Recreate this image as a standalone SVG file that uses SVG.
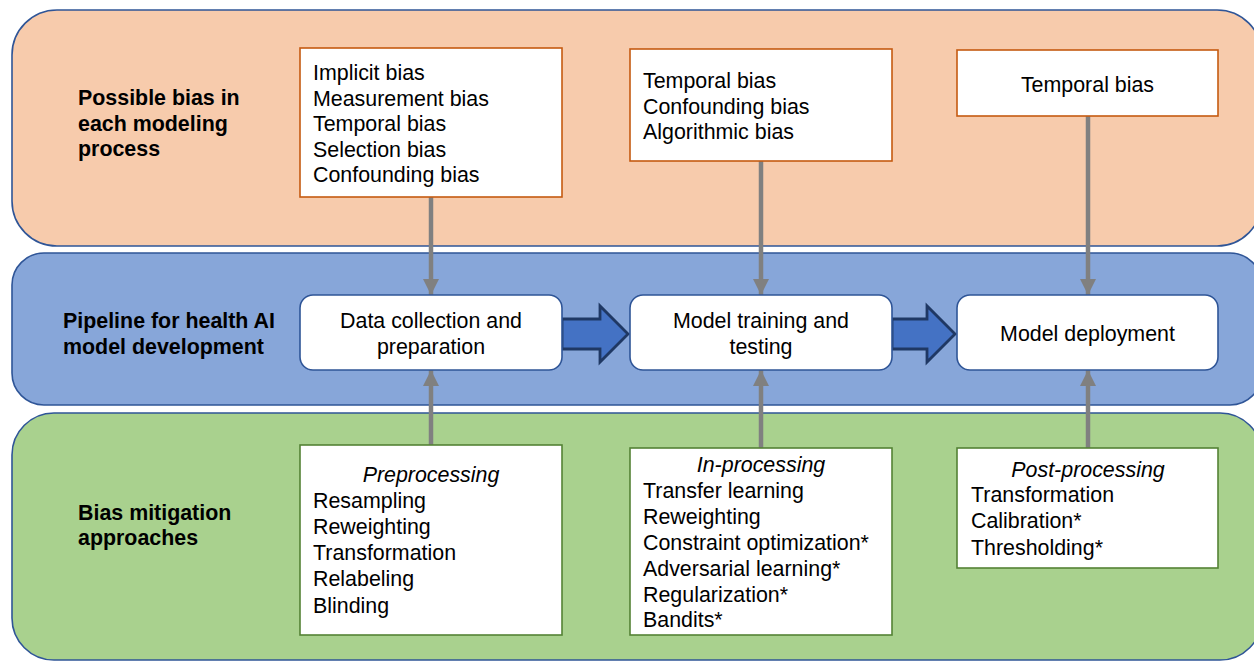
<svg xmlns="http://www.w3.org/2000/svg" width="1254" height="662" viewBox="0 0 1254 662">
<defs>
<style>
.band{stroke:#2F5597;stroke-width:1.6}
.txt{font-family:"Liberation Sans",Arial,sans-serif;font-size:21.4px;fill:#000}
.lbl{font-family:"Liberation Sans",Arial,sans-serif;font-size:21.4px;font-weight:bold;fill:#000}
.it{font-style:italic}
.obox{fill:#fff;stroke:#C55A11;stroke-width:1.6}
.gbox{fill:#fff;stroke:#548235;stroke-width:1.6}
.pbox{fill:#fff;stroke:#2F5597;stroke-width:1.6}
.conn{stroke:#808080;stroke-width:4.5;fill:none;marker-end:url(#ah)}
.blk{fill:#4472C4;stroke:#1F3864;stroke-width:2.8;stroke-linejoin:miter}
</style>
<marker id="ah" markerUnits="userSpaceOnUse" markerWidth="16" markerHeight="16" viewBox="0 0 16 16" refX="16" refY="8" orient="auto">
<path d="M0,0 L16,8 L0,16 Z" fill="#808080"/>
</marker>
</defs>
<g id="bands">
<rect id="band-bias" class="band" x="12" y="10" width="1250" height="236" rx="45" ry="45" fill="#F7CBAC"/>
<rect id="band-pipeline" class="band" x="12" y="253" width="1250" height="152" rx="32" ry="32" fill="#87A6D9"/>
<rect id="band-mitigation" class="band" x="12" y="413" width="1250" height="247" rx="42" ry="42" fill="#A9D18E"/>
</g>
<g id="labels">
<text class="lbl" x="78" y="105">Possible bias in</text>
<text class="lbl" x="78" y="131">each modeling</text>
<text class="lbl" x="78" y="156">process</text>
<text class="lbl" x="63" y="328">Pipeline for health AI</text>
<text class="lbl" x="63" y="354">model development</text>
<text class="lbl" x="78" y="520">Bias mitigation</text>
<text class="lbl" x="78" y="545">approaches</text>
</g>
<g id="connectors">
<line class="conn" x1="431" y1="197" x2="431" y2="295"/>
<line class="conn" x1="761" y1="161" x2="761" y2="295"/>
<line class="conn" x1="1088" y1="116" x2="1088" y2="295"/>
<line class="conn" x1="431" y1="445" x2="431" y2="370"/>
<line class="conn" x1="761" y1="448" x2="761" y2="370"/>
<line class="conn" x1="1088" y1="448" x2="1088" y2="370"/>
<path id="flow1" class="blk" d="M562,319 L600,319 L600,306 L628,334 L600,362 L600,349 L562,349 Z"/>
<path id="flow2" class="blk" d="M892,319 L927,319 L927,306 L955,334 L927,362 L927,349 L892,349 Z"/>
</g>
<g id="bias-data">
<rect class="obox" x="300" y="48" width="262" height="149"/>
<text class="txt" x="313" y="80">Implicit bias</text>
<text class="txt" x="313" y="105.6">Measurement bias</text>
<text class="txt" x="313" y="131.2">Temporal bias</text>
<text class="txt" x="313" y="156.8">Selection bias</text>
<text class="txt" x="313" y="182.4">Confounding bias</text>
</g>
<g id="bias-model">
<rect class="obox" x="630" y="49" width="262" height="112"/>
<text class="txt" x="643" y="88">Temporal bias</text>
<text class="txt" x="643" y="113.6">Confounding bias</text>
<text class="txt" x="643" y="139.2">Algorithmic bias</text>
</g>
<g id="bias-deploy">
<rect class="obox" x="957" y="50" width="261" height="66"/>
<text class="txt" x="1087.5" y="92" text-anchor="middle">Temporal bias</text>
</g>
<g id="step-data">
<rect class="pbox" x="300" y="295" width="262" height="75" rx="13" ry="13"/>
<text class="txt" x="431" y="328" text-anchor="middle">Data collection and</text>
<text class="txt" x="431" y="354" text-anchor="middle">preparation</text>
</g>
<g id="step-model">
<rect class="pbox" x="630" y="295" width="262" height="75" rx="13" ry="13"/>
<text class="txt" x="761" y="328" text-anchor="middle">Model training and</text>
<text class="txt" x="761" y="354" text-anchor="middle">testing</text>
</g>
<g id="step-deploy">
<rect class="pbox" x="957" y="295" width="261" height="75" rx="13" ry="13"/>
<text class="txt" x="1087.5" y="341" text-anchor="middle">Model deployment</text>
</g>
<g id="mit-pre">
<rect class="gbox" x="300" y="445" width="262" height="190"/>
<text class="txt it" x="431" y="482" text-anchor="middle">Preprocessing</text>
<text class="txt" x="313" y="508">Resampling</text>
<text class="txt" x="313" y="534">Reweighting</text>
<text class="txt" x="313" y="560">Transformation</text>
<text class="txt" x="313" y="586">Relabeling</text>
<text class="txt" x="313" y="613">Blinding</text>
</g>
<g id="mit-in">
<rect class="gbox" x="630" y="448" width="262" height="187"/>
<text class="txt it" x="761" y="472" text-anchor="middle">In-processing</text>
<text class="txt" x="643" y="498">Transfer learning</text>
<text class="txt" x="643" y="523.5">Reweighting</text>
<text class="txt" x="643" y="550">Constraint optimization*</text>
<text class="txt" x="643" y="576">Adversarial learning*</text>
<text class="txt" x="643" y="602">Regularization*</text>
<text class="txt" x="643" y="627">Bandits*</text>
</g>
<g id="mit-post">
<rect class="gbox" x="957" y="448" width="261" height="120"/>
<text class="txt it" x="1088" y="477" text-anchor="middle">Post-processing</text>
<text class="txt" x="971" y="502">Transformation</text>
<text class="txt" x="971" y="528">Calibration*</text>
<text class="txt" x="971" y="555">Thresholding*</text>
</g>
</svg>
